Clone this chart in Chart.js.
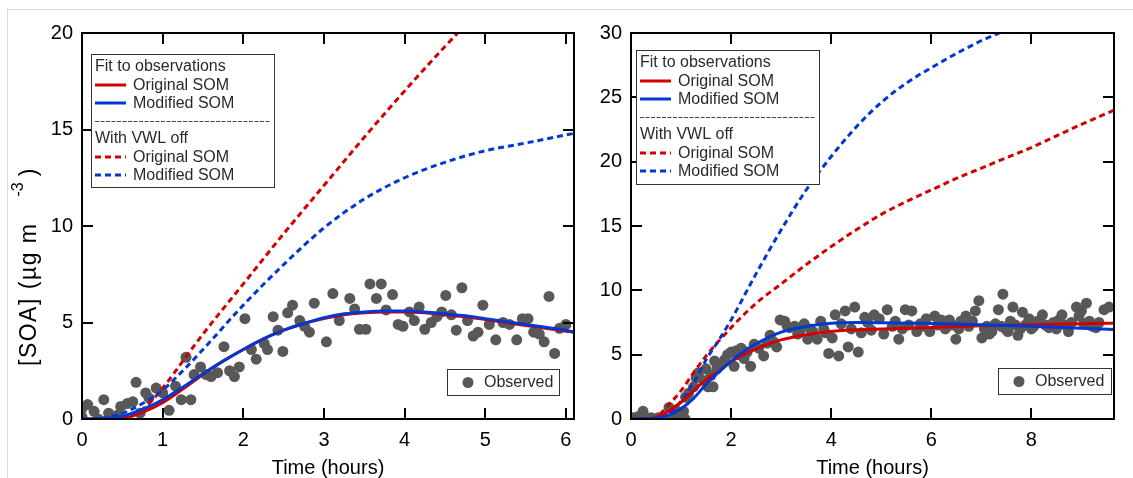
<!DOCTYPE html>
<html><head><meta charset="utf-8">
<script src="https://cdn.jsdelivr.net/npm/chart.js@4.4.0/dist/chart.umd.min.js"></script>
<style>
html,body{margin:0;padding:0;background:#fff;}
body{width:1133px;height:478px;overflow:hidden;position:relative;}
#frame{position:absolute;left:7px;top:9px;width:1140px;height:480px;border-left:1px solid #dcdcdc;border-top:1px solid #dcdcdc;}
#c1{position:absolute;left:0;top:0;}
#c2{position:absolute;left:590px;top:0;}
</style></head><body>
<div id="frame"></div>
<canvas id="c1" width="590" height="478"></canvas>
<canvas id="c2" width="543" height="478"></canvas>
<script>
// ---------- text ----------
const headings = ['Fit to observations', 'With VWL off'];
const seriesNames = ['Original SOM', 'Modified SOM'];
const obsName = 'Observed';
const xTitle = 'Time (hours)';
const yTitleMain = '[SOA] (\u00B5g m';
const yTitleSup = '-3';
const yTitleEnd = ')';

// ---------- left panel ----------
const leftTime = [0,0.25,0.5,0.75,1,1.25,1.5,1.75,2,2.25,2.5,2.75,3,3.25,3.5,3.75,4,4.25,4.5,4.75,5,5.25,5.5,5.75,6,6.1];
const leftOrig = [0,0,0.02,0.35,0.85,1.55,2.3,3.0,3.6,4.15,4.6,4.95,5.2,5.4,5.5,5.55,5.55,5.5,5.4,5.3,5.15,5.0,4.85,4.7,4.55,4.5];
const leftMod  = [0,0.02,0.15,0.5,1.0,1.65,2.35,3.0,3.6,4.15,4.6,4.95,5.25,5.45,5.55,5.6,5.6,5.55,5.45,5.35,5.2,5.05,4.9,4.75,4.6,4.5];
const leftRedDashTime = [0,0.25,0.5,0.75,1,1.25,1.5,2,2.5,3,3.5,4,4.5,4.75];
const leftRedDash = [0,0,0.05,0.5,1.6,3.0,4.4,7.0,9.6,12.1,14.6,17.0,19.3,20.4];
const leftBlueDashTime = [0,0.25,0.5,0.75,1,1.25,1.5,2,2.5,3,3.5,4,4.5,5,5.5,6.1];
const leftBlueDash = [0,0.05,0.3,0.8,1.5,2.5,3.6,5.9,8.0,9.9,11.4,12.5,13.3,13.9,14.3,14.8];
const leftObsTime = [0.0,0.0,0.07,0.15,0.2,0.27,0.33,0.4,0.44,0.48,0.56,0.63,0.67,0.72,0.79,0.83,0.92,1.0,1.08,1.16,1.23,1.29,1.35,1.39,1.47,1.54,1.6,1.68,1.76,1.83,1.89,1.95,2.02,2.1,2.16,2.26,2.3,2.37,2.43,2.49,2.55,2.61,2.7,2.76,2.82,2.88,3.03,3.11,3.19,3.32,3.38,3.44,3.52,3.57,3.65,3.71,3.77,3.85,3.92,3.98,4.06,4.12,4.18,4.25,4.33,4.4,4.46,4.51,4.58,4.64,4.71,4.78,4.85,4.91,4.97,5.05,5.13,5.22,5.3,5.39,5.46,5.53,5.6,5.67,5.73,5.79,5.86,5.92,6.0];
const leftObs = [0.1,0.55,0.75,0.4,0.0,1.0,0.3,0.0,0.2,0.65,0.8,0.9,1.9,0.3,1.35,1.1,1.6,1.35,0.45,1.7,1.0,3.2,1.0,2.3,2.7,2.3,2.2,2.4,3.75,2.5,2.2,2.7,5.2,3.6,3.1,3.9,3.6,5.3,4.6,3.5,5.5,5.9,5.1,4.8,4.5,6.0,4.0,6.5,5.1,6.25,5.7,4.65,4.65,7.0,6.25,7.0,5.65,6.45,4.9,4.8,5.55,5.1,5.8,4.65,5.0,5.3,5.55,6.4,5.4,4.6,6.8,5.1,4.3,4.5,5.9,4.9,4.1,5.0,4.9,4.1,5.2,5.2,4.5,4.4,4.0,6.35,3.4,4.7,4.9];
const leftXTicks = {min:0, max:6.1, step:1};
const leftYTicks = {min:0, max:20, step:5};

// ---------- right panel ----------
const rightTime = [0,0.25,0.5,0.75,1,1.25,1.5,1.75,2,2.25,2.5,3,3.5,4,4.5,5,6,7,8,9,9.65];
const rightOrig = [0,0,0.15,0.6,1.3,2.2,3.05,3.7,4.45,5.0,5.45,6.15,6.55,6.8,6.93,7.0,7.12,7.24,7.32,7.4,7.45];
const rightMod  = [0,0,0.05,0.3,0.8,1.6,2.7,3.65,4.5,5.25,5.85,6.75,7.2,7.45,7.5,7.48,7.42,7.32,7.2,7.05,6.95];
const rightRedDashTime = [0,0.25,0.5,0.75,1,1.25,1.5,2,2.5,3,3.5,4,4.5,5,5.5,6,6.5,7,7.5,8,8.5,9,9.65];
const rightRedDash = [0,0,0.15,1.1,2.2,3.6,4.9,7.1,9.0,10.5,12.0,13.4,14.7,15.9,16.9,17.8,18.7,19.5,20.3,21.1,22.0,22.9,24.0];
const rightBlueDashTime = [0,0.25,0.5,0.75,1,1.25,1.5,1.75,2,2.5,3,3.5,4,4.5,5,5.5,6,6.5,7,7.6];
const rightBlueDash = [0,0,0.05,0.4,1.4,2.8,4.6,6.1,7.7,11.3,14.7,17.8,20.4,22.7,24.6,26.1,27.3,28.4,29.4,30.4];
const rightObsTime = [0.0,0.05,0.1,0.15,0.2,0.24,0.3,0.35,0.4,0.45,0.5,0.55,0.6,0.65,0.7,0.76,0.8,0.85,0.89,0.92,0.99,1.05,1.08,1.09,1.15,1.25,1.3,1.35,1.45,1.5,1.54,1.6,1.64,1.67,1.72,1.8,1.87,1.93,2.0,2.06,2.1,2.13,2.2,2.26,2.32,2.39,2.46,2.55,2.65,2.72,2.78,2.85,2.91,2.98,3.07,3.12,3.17,3.27,3.33,3.37,3.46,3.53,3.58,3.63,3.72,3.79,3.85,3.89,3.95,4.02,4.08,4.15,4.2,4.28,4.34,4.4,4.47,4.54,4.6,4.67,4.73,4.8,4.86,4.96,5.05,5.12,5.22,5.28,5.35,5.42,5.48,5.55,5.61,5.71,5.78,5.84,5.9,5.97,6.07,6.13,6.2,6.28,6.36,6.42,6.49,6.55,6.59,6.69,6.75,6.82,6.88,6.95,7.01,7.06,7.11,7.16,7.21,7.28,7.34,7.4,7.43,7.48,7.53,7.58,7.63,7.68,7.73,7.78,7.82,7.88,7.95,8.0,8.05,8.12,8.22,8.28,8.35,8.44,8.5,8.55,8.61,8.68,8.74,8.8,8.9,8.95,9.0,9.05,9.1,9.16,9.22,9.29,9.35,9.45,9.55];
const rightObs = [0.0,0.1,0.0,0.2,0.0,0.6,0.1,0.0,0.1,0.0,0.0,0.1,0.0,0.0,0.0,0.9,0.0,0.2,0.7,0.0,0.4,0.6,0.0,1.7,2.0,2.5,3.2,3.6,3.0,3.9,2.5,3.4,2.5,4.5,3.9,4.2,4.6,5.0,5.2,4.1,5.3,5.0,5.5,4.7,5.2,4.1,5.8,5.5,4.9,5.9,6.5,6.0,5.6,7.7,7.6,7.2,7.1,7.2,6.6,6.8,7.4,6.2,7.0,6.8,6.2,7.6,7.0,6.7,5.1,6.3,8.1,4.9,7.4,8.4,5.6,7.0,8.7,5.2,6.7,7.9,7.5,6.9,8.1,7.8,6.6,8.5,7.2,7.6,6.2,7.0,8.5,7.3,8.4,6.8,7.4,7.2,7.8,6.8,8.0,7.3,7.7,7.0,7.7,7.3,6.2,7.0,7.6,8.0,7.2,7.6,8.4,9.2,6.3,7.0,7.2,6.6,6.8,7.4,8.5,7.2,9.7,7.0,6.8,7.6,8.7,7.3,6.5,7.0,8.3,7.3,7.8,7.0,7.2,7.6,8.1,7.3,7.1,7.5,7.0,7.7,8.1,7.3,6.8,7.5,8.7,8.0,8.4,7.4,9.0,7.6,7.2,7.1,7.5,8.5,8.7];
const rightXTicks = {min:0, max:9.65, step:2};
const rightYTicks = {min:0, max:30, step:5};

// ---------- styles ----------
const RED = 'rgb(212,0,0)';
const BLUE = 'rgb(0,56,210)';
const GREY = 'rgb(88,88,88)';
const FONT = '"Liberation Sans", Arial, sans-serif';

function xy(t, v) { return t.map((x, i) => ({x: x, y: v[i]})); }
function curve(label, t, v, color, dashed) {
  return {label: label, data: xy(t, v), showLine: true, borderColor: color, backgroundColor: color,
    borderWidth: 3, borderDash: dashed ? [6, 4] : [], pointRadius: 0, pointHoverRadius: 0,
    cubicInterpolationMode: 'monotone', fill: false, clip: 0};
}

const decor = {
  id: 'decor',
  afterDraw(chart) {
    const o = chart.options.plugins.decor;
    const ctx = chart.ctx, a = chart.chartArea, xs = chart.scales.x, ys = chart.scales.y;
    ctx.save();
    ctx.strokeStyle = '#000'; ctx.lineWidth = 2;
    const TL = 11;
    ctx.beginPath();
    xs.ticks.forEach(t => {
      const p = Math.round(xs.getPixelForValue(t.value));
      if (p <= a.left + 2 || p >= a.right - 2) return;
      ctx.moveTo(p, a.bottom); ctx.lineTo(p, a.bottom - TL);
      ctx.moveTo(p, a.top); ctx.lineTo(p, a.top + TL);
    });
    ys.ticks.forEach(t => {
      const p = Math.round(ys.getPixelForValue(t.value));
      if (p <= a.top + 2 || p >= a.bottom - 2) return;
      ctx.moveTo(a.left, p); ctx.lineTo(a.left + TL, p);
      ctx.moveTo(a.right, p); ctx.lineTo(a.right - TL, p);
    });
    ctx.stroke();
    ctx.strokeRect(a.left, a.top, a.right - a.left, a.bottom - a.top);

    const L = o.legend;
    ctx.fillStyle = '#fff'; ctx.fillRect(L.x, L.y, L.w, L.h);
    ctx.strokeStyle = '#333'; ctx.lineWidth = 1;
    ctx.strokeRect(L.x + 0.5, L.y + 0.5, L.w, L.h);
    ctx.font = '16px ' + FONT; ctx.textBaseline = 'middle'; ctx.textAlign = 'left';
    ctx.fillStyle = '#2a2a2a';
    const lx = L.x + 4, sx1 = L.x + 4, sx2 = L.x + 35, tx = L.x + 42;
    const rows = [
      {type: 'head', text: headings[0], dy: 12},
      {type: 'line', text: seriesNames[0], color: RED, dash: false, dy: 31},
      {type: 'line', text: seriesNames[1], color: BLUE, dash: false, dy: 49},
      {type: 'sep', dy: 67},
      {type: 'head', text: headings[1], dy: 84},
      {type: 'line', text: seriesNames[0], color: RED, dash: true, dy: 103},
      {type: 'line', text: seriesNames[1], color: BLUE, dash: true, dy: 121}
    ];
    rows.forEach(r => {
      const y = L.y + r.dy;
      if (r.type === 'head') { ctx.fillStyle = '#2a2a2a'; ctx.fillText(r.text, lx, y + 1); }
      else if (r.type === 'sep') {
        ctx.save(); ctx.strokeStyle = '#444'; ctx.lineWidth = 1; ctx.setLineDash([4, 1.5]);
        ctx.beginPath(); ctx.moveTo(lx, y + 0.5); ctx.lineTo(L.x + L.w - 4, y + 0.5); ctx.stroke(); ctx.restore();
      } else {
        ctx.save(); ctx.strokeStyle = r.color; ctx.lineWidth = 3;
        if (r.dash) ctx.setLineDash([6, 4]);
        ctx.beginPath(); ctx.moveTo(sx1, y); ctx.lineTo(sx2, y); ctx.stroke(); ctx.restore();
        ctx.fillStyle = '#2a2a2a'; ctx.fillText(r.text, tx, y + 1);
      }
    });

    const B = o.obsBox;
    ctx.fillStyle = '#fff'; ctx.fillRect(B.x, B.y, B.w, B.h);
    ctx.strokeStyle = '#333'; ctx.lineWidth = 1; ctx.strokeRect(B.x + 0.5, B.y + 0.5, B.w, B.h);
    ctx.fillStyle = GREY; ctx.beginPath(); ctx.arc(B.x + 21, B.y + B.h / 2 + 0.5, 5.5, 0, Math.PI * 2); ctx.fill();
    ctx.fillStyle = '#2a2a2a'; ctx.fillText(obsName, B.x + 37, B.y + B.h / 2 + 1);

    if (o.yTitle) {
      ctx.save();
      ctx.translate(30, 366); ctx.rotate(-Math.PI / 2);
      ctx.fillStyle = '#000'; ctx.textBaseline = 'middle'; ctx.textAlign = 'left';
      ctx.font = '23px ' + FONT;
      try { ctx.letterSpacing = '1.5px'; } catch (e) {}
      ctx.fillText(yTitleMain, 0, 0);
      const w = ctx.measureText(yTitleMain).width;
      try { ctx.letterSpacing = '0px'; } catch (e) {}
      ctx.font = '16px ' + FONT;
      ctx.fillText(yTitleSup, w + 26, -11);
      const w2 = ctx.measureText(yTitleSup).width;
      ctx.font = '23px ' + FONT;
      ctx.fillText(yTitleEnd, w + 26 + w2 + 6, 0);
      ctx.restore();
    }
    ctx.restore();
  }
};

function makeChart(id, cfg) {
  return new Chart(document.getElementById(id), {
    type: 'scatter',
    data: {datasets: [
      curve(seriesNames[1], cfg.t, cfg.mod, BLUE, false),
      curve(seriesNames[0], cfg.t, cfg.orig, RED, false),
      curve(seriesNames[1] + ' (VWL off)', cfg.bdt, cfg.bd, BLUE, true),
      curve(seriesNames[0] + ' (VWL off)', cfg.rdt, cfg.rd, RED, true),
      {label: obsName, data: xy(cfg.ot, cfg.ov), showLine: false, pointRadius: 5.5, pointHoverRadius: 5.5,
       pointBackgroundColor: GREY, pointBorderWidth: 0, backgroundColor: GREY, borderColor: GREY}
    ]},
    options: {
      responsive: false, animation: false, devicePixelRatio: 1,
      layout: {padding: {left: 0, right: cfg.padR, top: 33, bottom: 0}},
      plugins: {legend: {display: false}, tooltip: {enabled: false},
        decor: {legend: cfg.legend, obsBox: cfg.obsBox, yTitle: cfg.yTitle}},
      scales: {
        x: {type: 'linear', min: cfg.xt.min, max: cfg.xt.max,
          border: {display: false}, grid: {display: false, drawTicks: false},
          ticks: {stepSize: cfg.xt.step, includeBounds: false, color: '#000', padding: 9, maxRotation: 0, autoSkip: false,
            font: {size: 20, family: FONT}},
          title: {display: true, text: xTitle, color: '#000', padding: 0, font: {size: 20, family: FONT, lineHeight: 1}},
          afterFit: s => { s.height = 59; }},
        y: {type: 'linear', min: cfg.yt.min, max: cfg.yt.max,
          border: {display: false}, grid: {display: false, drawTicks: false},
          ticks: {stepSize: cfg.yt.step, includeBounds: false, color: '#000', padding: 9, autoSkip: false,
            font: {size: 20, family: FONT}},
          afterFit: s => { s.width = cfg.yW; }}
      }
    },
    plugins: [decor]
  });
}

makeChart('c1', {t: leftTime, orig: leftOrig, mod: leftMod, rdt: leftRedDashTime, rd: leftRedDash,
  bdt: leftBlueDashTime, bd: leftBlueDash, ot: leftObsTime, ov: leftObs, xt: leftXTicks, yt: leftYTicks,
  padR: 16, yW: 82, yTitle: true,
  legend: {x: 91, y: 54, w: 183, h: 133}, obsBox: {x: 447, y: 369, w: 112, h: 26}});

makeChart('c2', {t: rightTime, orig: rightOrig, mod: rightMod, rdt: rightRedDashTime, rd: rightRedDash,
  bdt: rightBlueDashTime, bd: rightBlueDash, ot: rightObsTime, ov: rightObs, xt: rightXTicks, yt: rightYTicks,
  padR: 19, yW: 41, yTitle: false,
  legend: {x: 46, y: 50, w: 183, h: 134}, obsBox: {x: 408, y: 368, w: 113, h: 26}});
</script>
</body></html>
